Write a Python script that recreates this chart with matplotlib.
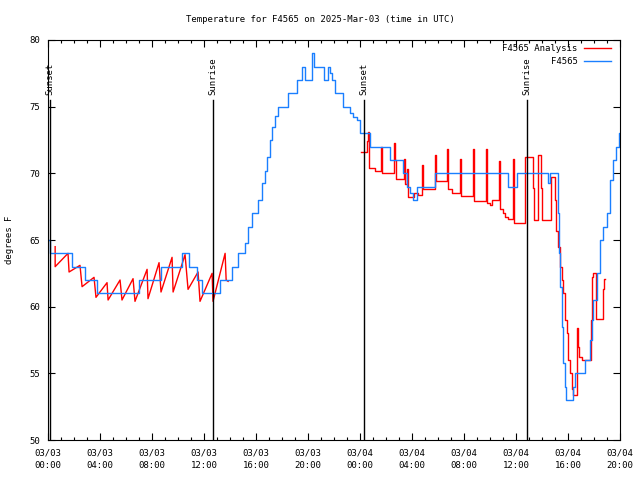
import matplotlib
matplotlib.use("Agg")
import matplotlib.pyplot as plt
import matplotlib.dates as mdates
import pandas as pd

t0 = pd.Timestamp("2025-03-03 00:00")

# observed temperature (step values, hours since 03/03 00:00 UTC)
obs_hours = [0.0, 0.15, 1.85, 2.85, 3.8, 7.0, 8.7, 10.3, 10.85, 11.45, 11.85, 13.2,
             14.15, 14.6, 15.15, 15.4, 15.7, 16.15, 16.45, 16.7, 16.85, 17.1, 17.25,
             17.45, 17.7, 18.45, 19.15, 19.55, 19.77, 20.3, 20.45, 21.2, 21.54, 21.7,
             21.85, 22.08, 22.7, 23.23, 23.46, 23.77, 24.0, 24.77, 26.3, 27.3, 27.6,
             27.85, 28.08, 28.38, 29.77, 35.38, 36.08, 38.46, 38.6, 39.23, 39.3, 39.38,
             39.54, 39.62, 39.77, 39.85, 40.38, 40.54, 41.3, 41.7, 41.85, 41.92, 42.23,
             42.46, 42.69, 43.0, 43.23, 43.46, 43.7, 43.92, 44.0]
obs_temp = [65, 64, 63, 62, 61, 62, 63, 64, 63, 62, 61, 62,
            63, 64, 64.8, 66, 67, 68, 69.3, 70.2, 71.2, 72.5, 73.5,
            74.3, 75, 76, 77, 78, 77, 79, 78, 77, 78, 77.5,
            77, 76, 75, 74.5, 74.2, 74, 73, 72, 71, 70, 69,
            68.5, 68, 69, 70, 69, 70, 69.3, 70, 67, 64, 61.5,
            58.5, 55.8, 54, 53, 54, 55, 56, 57.5, 59, 60.5, 62.5,
            65, 66, 67, 69.5, 71, 72, 73, 73]

# analysis, first part (sawtooth)
ana1_hours = [0.55, 0.55, 1.54, 1.62, 2.46, 2.62, 3.54, 3.69, 4.54, 4.62, 5.54, 5.69,
              6.54, 6.69, 7.62, 7.69, 8.54, 8.69, 9.54, 9.62, 10.54, 10.77, 11.54,
              11.69, 12.62, 12.69, 13.62, 13.7, 13.85]
ana1_temp = [64.5, 63.0, 64.0, 62.6, 63.1, 61.5, 62.2, 60.7, 61.8, 60.5, 62.0, 60.5,
             62.1, 60.4, 62.8, 60.6, 63.3, 61.1, 63.7, 61.1, 63.9, 61.3, 62.6,
             60.4, 62.5, 60.4, 64.0, 62.0, 61.9]

# analysis, second part (steps)
ana2_hours = [24.08, 24.54, 24.62, 24.69, 25.15, 25.62, 25.69, 26.62, 26.69, 26.77,
              27.38, 27.46, 27.62, 27.69, 28.15, 28.46, 28.77, 28.85, 29.77, 29.85,
              30.69, 30.77, 31.08, 31.69, 31.77, 32.69, 32.77, 33.69, 33.77, 34.0,
              34.15, 34.69, 34.77, 35.0, 35.15, 35.38, 35.77, 35.85, 36.69, 37.31,
              37.38, 37.69, 37.92, 38.0, 38.69, 39.0, 39.1, 39.23, 39.38, 39.54,
              39.62, 39.77, 39.92, 40.0, 40.15, 40.31, 40.38, 40.69, 40.77, 40.85,
              41.08, 41.77, 41.85, 41.92, 42.15, 42.69, 42.77, 42.85]
ana2_temp = [71.6, 72.4, 73.1, 70.4, 70.2, 72.0, 70.0, 72.3, 71.0, 69.6,
             71.1, 69.2, 70.3, 68.2, 68.5, 68.4, 70.6, 68.8, 71.4, 69.4,
             71.8, 68.8, 68.5, 71.1, 68.3, 71.8, 67.9, 71.8, 67.8, 67.6,
             68.0, 70.9, 67.3, 67.0, 66.7, 66.6, 71.1, 66.3, 71.2, 68.9,
             66.5, 71.4, 68.9, 66.5, 69.7, 68.0, 65.7, 64.5, 63.0, 62.0,
             61.0, 59.0, 58.0, 56.0, 55.0, 53.8, 53.4, 58.4, 57.0, 56.2,
             56.0, 59.0, 62.2, 62.5, 59.1, 61.3, 62.1, 62.1]

sun_hours = [0.15, 12.7, 24.3, 36.85]
sun_labels = ["Sunset", "Sunrise", "Sunset", "Sunrise"]


def to_time(hours):
    return t0 + pd.to_timedelta(hours, unit="h")


mono = "DejaVu Sans Mono"
plt.rcParams["font.family"] = mono
plt.rcParams["font.size"] = 6.5

fig = plt.figure(figsize=(6.4, 4.8), dpi=100)
ax = fig.add_axes([0.075, 0.0833, 0.894, 0.8334])

red = "#ff0000"
blue = "#1a7fff"

ax.plot(to_time(ana1_hours), ana1_temp, color=red, lw=1.0, label="F4565 Analysis")
ax.plot(to_time(ana2_hours), ana2_temp, color=red, lw=1.0, drawstyle="steps-post")
ax.plot(to_time(obs_hours), obs_temp, color=blue, lw=1.0, drawstyle="steps-post",
        label="F4565")

for h, lab in zip(sun_hours, sun_labels):
    t = to_time([h])[0]
    ax.axvline(t, ymin=0, ymax=(75.5 - 50) / 30, color="black", lw=1.0)
    ax.text(t, 75.9, lab, rotation=90, ha="center", va="bottom")

ax.set_xlim(to_time([0])[0], to_time([44])[0])
ax.set_ylim(50, 80)
ax.set_yticks([50, 55, 60, 65, 70, 75, 80])
ax.xaxis.set_major_locator(mdates.HourLocator(byhour=range(0, 24, 4)))
ax.xaxis.set_minor_locator(mdates.HourLocator())
ax.xaxis.set_major_formatter(mdates.DateFormatter("%m/%d\n%H:%M"))
ax.tick_params(which="both", direction="in", top=True, right=True, labelsize=6.5)
ax.tick_params(which="major", length=5, width=0.8, pad=6)
ax.tick_params(which="minor", length=2.5, width=0.8)
for lab in ax.get_xticklabels():
    lab.set_linespacing(1.5)
for s in ax.spines.values():
    s.set_linewidth(0.8)

fig.text(0.5, 0.96, "Temperature for F4565 on 2025-Mar-03 (time in UTC)",
         ha="center", va="center", fontsize=6.5)
ax.set_ylabel("degrees F", labelpad=11)

ax.legend(loc="upper right", bbox_to_anchor=(0.995, 1.005), frameon=False, markerfirst=False,
          handlelength=3.0, handletextpad=0.7, labelspacing=0.45, borderaxespad=0.3)

fig.savefig("out.png", dpi=100)
